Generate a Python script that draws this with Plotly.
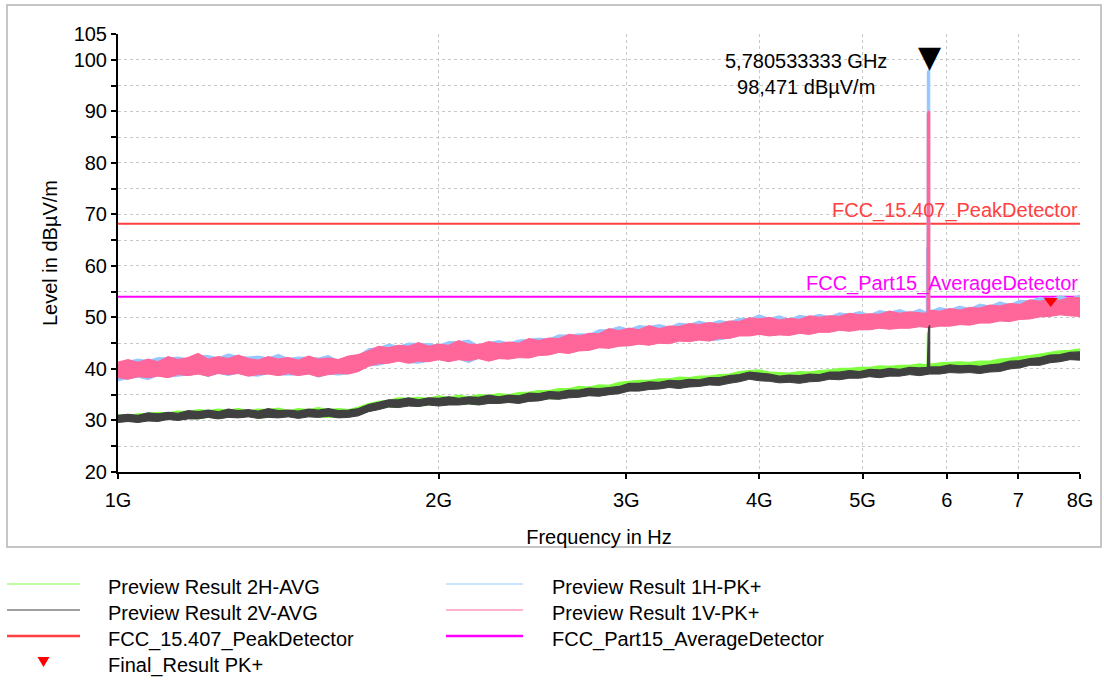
import numpy as np
import plotly.graph_objects as go

# ---------------------------------------------------------------------------
# Sweep data: 97 sweep points from 1 to 8 GHz (log-spaced), each trace given
# as the lower / upper edge of its noise band in dBuV/m.
# ---------------------------------------------------------------------------
FREQ_GHZ = np.geomspace(1.0, 8.0, 97)

PK_1H_HI = [
    41.0, 41.5, 41.9, 41.6, 42.2, 42.1, 42.3, 41.9, 42.6, 42.6,
    42.1, 42.9, 42.4, 42.3, 42.5, 42.1, 42.8, 42.0, 42.3, 42.2,
    42.1, 42.6, 41.6, 42.3, 42.6, 43.9, 44.1, 44.8, 44.4, 45.0,
    44.9, 44.9, 44.6, 45.3, 45.3, 45.6, 44.5, 45.1, 45.5, 45.0,
    45.6, 45.7, 46.0, 45.8, 46.6, 46.5, 46.8, 46.7, 47.6, 47.6,
    48.2, 47.7, 48.4, 48.2, 48.6, 48.1, 48.9, 48.6, 49.3, 48.8,
    49.4, 49.1, 49.8, 49.7, 50.5, 49.8, 50.3, 49.6, 50.4, 50.1,
    50.6, 50.1, 50.9, 50.6, 51.1, 50.5, 51.3, 51.0, 51.5, 50.9,
    51.6, 51.2, 51.9, 51.5, 52.2, 51.7, 52.6, 52.2, 53.0, 52.5,
    53.3, 53.2, 53.9, 53.4, 54.2, 53.7, 54.3]
PK_1H_LO = [
    37.7, 38.1, 38.4, 37.9, 38.7, 38.4, 38.6, 38.8, 39.1, 38.5,
    39.2, 38.7, 39.2, 38.7, 38.6, 39.1, 38.8, 38.8, 38.8, 39.1,
    38.4, 39.0, 38.8, 39.1, 39.6, 40.6, 40.7, 41.2, 41.6, 41.2,
    41.1, 41.5, 41.9, 41.5, 41.9, 41.2, 42.1, 41.6, 42.1, 42.0,
    42.3, 42.2, 42.7, 42.8, 43.3, 43.1, 43.6, 43.7, 44.2, 44.1,
    44.5, 44.6, 44.9, 44.7, 45.1, 45.0, 45.5, 45.4, 45.7, 45.5,
    45.6, 46.0, 46.5, 46.5, 46.8, 46.5, 46.7, 46.6, 47.0, 46.8,
    47.2, 47.2, 47.6, 47.4, 47.7, 47.7, 48.0, 47.8, 48.0, 48.0,
    48.3, 48.1, 48.4, 48.4, 48.7, 48.6, 49.0, 49.0, 49.4, 49.3,
    49.7, 49.8, 50.2, 50.3, 50.6, 50.4, 50.3]

PK_1V_HI = [
    41.3, 41.8, 41.3, 41.9, 41.4, 42.4, 41.8, 42.2, 43.0, 41.9,
    42.4, 42.0, 42.7, 42.0, 41.7, 42.4, 41.9, 42.2, 41.7, 42.5,
    41.9, 42.1, 41.8, 42.5, 42.8, 43.5, 44.4, 44.1, 44.6, 44.4,
    45.1, 44.4, 44.8, 44.6, 45.5, 44.8, 44.7, 45.3, 44.9, 45.2,
    45.0, 45.9, 45.5, 46.0, 45.9, 46.7, 46.4, 46.9, 46.8, 47.8,
    47.4, 47.9, 47.6, 48.4, 47.8, 48.3, 48.2, 48.8, 48.6, 49.0,
    48.7, 49.3, 49.2, 49.9, 49.7, 50.0, 49.5, 49.8, 49.6, 50.3,
    50.0, 50.3, 50.2, 50.8, 50.5, 50.7, 50.6, 51.2, 50.8, 51.1,
    50.9, 51.4, 51.2, 51.7, 51.4, 51.9, 51.8, 52.4, 52.2, 52.7,
    52.5, 53.4, 53.1, 53.6, 53.3, 53.9, 53.8]
PK_1V_LO = [
    38.3, 38.0, 38.5, 38.3, 38.6, 38.3, 38.9, 38.7, 39.0, 38.6,
    39.1, 38.9, 39.1, 38.6, 38.9, 39.0, 38.7, 39.1, 38.7, 39.0,
    38.5, 38.9, 39.1, 39.0, 39.5, 40.5, 41.0, 41.1, 41.5, 41.1,
    41.5, 41.4, 41.8, 41.4, 41.8, 41.6, 42.0, 41.5, 42.0, 41.9,
    42.2, 42.1, 42.6, 42.7, 43.2, 43.0, 43.5, 43.6, 44.1, 44.0,
    44.4, 44.5, 44.8, 44.6, 45.0, 44.9, 45.4, 45.3, 45.6, 45.4,
    45.9, 45.9, 46.4, 46.4, 46.7, 46.4, 46.6, 46.5, 46.9, 46.7,
    47.1, 47.1, 47.5, 47.3, 47.6, 47.6, 47.9, 47.7, 47.9, 47.9,
    48.2, 48.0, 48.3, 48.3, 48.6, 48.5, 48.9, 48.9, 49.3, 49.2,
    49.6, 49.7, 50.1, 50.2, 50.5, 50.3, 50.2]

AVG_2H_HI = [
    31.1, 31.0, 31.3, 31.4, 31.6, 31.5, 31.8, 31.7, 32.1, 31.9,
    32.2, 32.0, 32.3, 31.9, 32.2, 32.1, 32.4, 31.9, 32.3, 32.1,
    32.5, 32.1, 32.3, 32.1, 32.6, 33.3, 33.7, 33.9, 34.4, 34.3,
    34.5, 34.3, 34.8, 34.5, 34.9, 34.6, 35.0, 34.9, 35.2, 35.0,
    35.4, 35.5, 35.8, 35.8, 36.2, 36.2, 36.6, 36.5, 36.9, 36.8,
    37.4, 37.6, 37.8, 37.8, 38.1, 38.1, 38.4, 38.3, 38.6, 38.6,
    38.9, 39.0, 39.5, 39.7, 39.8, 39.4, 39.3, 39.2, 39.5, 39.4,
    39.7, 39.8, 40.1, 40.1, 40.3, 40.3, 40.6, 40.5, 40.7, 40.7,
    41.0, 40.9, 41.2, 41.3, 41.4, 41.3, 41.5, 41.5, 41.9, 42.1,
    42.4, 42.6, 42.9, 43.2, 43.5, 43.6, 43.9]
AVG_2H_LO = [
    29.8, 29.9, 29.7, 30.0, 30.1, 30.2, 30.2, 30.4, 30.3, 30.6,
    30.4, 30.6, 30.6, 30.8, 30.4, 30.7, 30.6, 30.8, 30.5, 30.8,
    30.7, 30.6, 30.7, 30.7, 31.0, 31.8, 32.2, 32.6, 32.6, 32.9,
    32.8, 33.0, 32.9, 33.1, 33.1, 33.2, 33.1, 33.4, 33.4, 33.5,
    33.4, 33.8, 33.9, 34.2, 34.2, 34.5, 34.6, 34.9, 34.9, 35.1,
    35.3, 35.8, 35.9, 36.1, 36.3, 36.5, 36.4, 36.7, 36.8, 37.0,
    37.0, 37.3, 37.7, 38.1, 37.9, 37.8, 37.5, 37.6, 37.4, 37.7,
    37.8, 38.1, 38.1, 38.3, 38.4, 38.6, 38.5, 38.8, 38.8, 39.0,
    38.9, 39.2, 39.2, 39.5, 39.4, 39.5, 39.3, 39.6, 39.7, 40.2,
    40.4, 40.9, 40.9, 41.4, 41.6, 42.0, 41.9]

AVG_2V_HI = [
    31.0, 31.2, 31.0, 31.5, 31.3, 31.6, 31.4, 31.9, 31.7, 32.0,
    31.7, 32.2, 31.9, 32.1, 31.8, 32.3, 31.9, 32.0, 31.8, 32.2,
    32.0, 32.3, 31.9, 32.0, 32.3, 33.1, 33.5, 34.0, 34.0, 34.4,
    34.0, 34.4, 34.3, 34.6, 34.3, 34.6, 34.5, 34.9, 34.6, 34.9,
    34.8, 35.3, 35.2, 35.6, 35.5, 35.9, 35.9, 36.3, 36.2, 36.4,
    36.6, 37.2, 37.2, 37.5, 37.4, 37.8, 37.7, 38.0, 37.9, 38.3,
    38.3, 38.7, 38.9, 39.4, 39.2, 39.0, 38.6, 38.8, 38.7, 39.0,
    38.9, 39.4, 39.4, 39.7, 39.5, 39.9, 39.8, 40.1, 39.9, 40.3,
    40.2, 40.4, 40.4, 40.8, 40.6, 40.7, 40.5, 40.8, 41.0, 41.5,
    41.6, 42.0, 42.2, 42.7, 42.8, 43.2, 43.3]
AVG_2V_LO = [
    29.6, 29.8, 29.6, 29.9, 29.8, 30.2, 30.0, 30.3, 30.3, 30.6,
    30.3, 30.6, 30.5, 30.7, 30.4, 30.6, 30.5, 30.7, 30.4, 30.7,
    30.6, 30.8, 30.5, 30.6, 30.9, 31.7, 32.1, 32.6, 32.5, 32.8,
    32.7, 33.0, 32.8, 33.0, 33.0, 33.2, 33.0, 33.3, 33.3, 33.5,
    33.3, 33.7, 33.8, 34.2, 34.1, 34.4, 34.5, 34.8, 34.7, 35.0,
    35.2, 35.7, 35.7, 36.0, 36.1, 36.4, 36.2, 36.5, 36.6, 36.9,
    36.8, 37.2, 37.5, 38.0, 37.7, 37.6, 37.3, 37.4, 37.2, 37.5,
    37.6, 38.0, 37.9, 38.2, 38.2, 38.5, 38.3, 38.6, 38.6, 38.9,
    38.7, 39.0, 39.0, 39.3, 39.2, 39.3, 39.1, 39.4, 39.5, 40.0,
    40.2, 40.7, 40.7, 41.2, 41.4, 41.8, 41.7]

# carrier emission near 5.78 GHz (narrow spikes on every trace)
PEAK_FREQ_HZ = 5780533333
PEAK_LEVEL = 98.471
SPIKE_GHZ = [5.7390, 5.7420, 5.7460, 5.7490, 5.7520, 5.7660, PEAK_FREQ_HZ / 1e9]
PK_1H_SPIKE = [51.0, 63.6, 51.1, 51.3, 97.6, 98.0, PEAK_LEVEL]
PK_1V_SPIKE = [50.8, 50.9, 50.9, 51.0, 89.6, 90.0, 89.8]
AVG_2H_SPIKE = [40.8, 40.9, 40.9, 41.0, 46.9, 47.2, 41.0]
AVG_2V_SPIKE = [40.3, 40.2, 40.3, 40.4, 40.5, 48.0, 48.5]

# limits and final measurement
LIMIT_PEAK = 68.2
LIMIT_AVG = 54.0
FINAL_GHZ = [7.51]
FINAL_LEVEL = [53.2]

# axis ticks
X_TICK_GHZ = [1, 2, 3, 4, 5, 6, 7, 8]
X_TICK_TEXT = ["1G", "2G", "3G", "4G", "5G", "6", "7", "8G"]
Y_TICKS = [20, 25, 30, 35, 40, 45, 50, 55, 60, 65, 70, 75, 80, 85, 90, 95, 100, 105]
Y_TICK_TEXT = ["20", "", "30", "", "40", "", "50", "", "60", "", "70", "",
               "80", "", "90", "", "100", "105"]

# ---------------------------------------------------------------------------
# styling
# ---------------------------------------------------------------------------
FONT = "Liberation Sans, Arial, sans-serif"
FS = 20
C_BLUE = "rgb(150,200,255)"
C_PINK = "rgb(255,102,153)"
C_GREEN = "rgb(128,255,64)"
C_GRAY = "rgb(64,64,64)"
C_RED = "rgb(255,64,64)"
C_MAGENTA = "rgb(255,0,255)"
C_FINAL = "rgb(255,0,0)"

W, H = 1104, 680
ML, MR, MT, MB = 118, 24, 34, 208
PW, PH = W - ML - MR, H - MT - MB


def px_x(px):
    return (px - ML) / PW


def px_y(py):
    return (H - MB - py) / PH


fig = go.Figure()

# limit lines (under the measured traces)
for level, color in ((LIMIT_PEAK, C_RED), (LIMIT_AVG, C_MAGENTA)):
    fig.add_trace(go.Scatter(
        x=[1e9, 8e9], y=[level, level], mode="lines",
        line=dict(color=color, width=2), showlegend=False, hoverinfo="skip"))


def add_band(lo, hi, color, name, spike_v):
    f = FREQ_GHZ * 1e9
    fig.add_trace(go.Scatter(
        x=f, y=lo, mode="lines", line=dict(color=color, width=1, simplify=False),
        showlegend=False, hoverinfo="skip"))
    fh = np.concatenate([f, np.asarray(SPIKE_GHZ) * 1e9])
    vh = np.concatenate([np.asarray(hi), np.asarray(spike_v)])
    order = np.argsort(fh, kind="stable")
    fig.add_trace(go.Scatter(
        x=fh[order], y=vh[order], mode="lines",
        line=dict(color=color, width=1.2, simplify=False),
        fill="tonexty", fillcolor=color, name=name, showlegend=False))


add_band(PK_1H_LO, PK_1H_HI, C_BLUE, "Preview Result 1H-PK+", PK_1H_SPIKE)
add_band(PK_1V_LO, PK_1V_HI, C_PINK, "Preview Result 1V-PK+", PK_1V_SPIKE)
add_band(AVG_2H_LO, AVG_2H_HI, C_GREEN, "Preview Result 2H-AVG", AVG_2H_SPIKE)
add_band(AVG_2V_LO, AVG_2V_HI, C_GRAY, "Preview Result 2V-AVG", AVG_2V_SPIKE)

# final result marker
fig.add_trace(go.Scatter(
    x=np.asarray(FINAL_GHZ) * 1e9, y=FINAL_LEVEL, mode="markers",
    marker=dict(symbol="triangle-down", size=12, color=C_FINAL, line=dict(width=0)),
    name="Final_Result PK+", showlegend=False))

shapes = []
annotations = []

# peak marker: a downward triangle sitting on the peak level
annotations.append(dict(
    xref="x", yref="y", x=np.log10(PEAK_FREQ_HZ), y=PEAK_LEVEL, text="▼",
    showarrow=False, xanchor="center", yanchor="bottom", yshift=-8,
    font=dict(family="DejaVu Sans", size=30, color="black")))

peak_txt = (f"{PEAK_FREQ_HZ / 1e9:.9f}".replace(".", ",") + " GHz<br>"
            + f"{PEAK_LEVEL:.3f}".replace(".", ",") + " dBµV/m")
annotations.append(dict(
    xref="paper", yref="paper", x=px_x(806), y=px_y(74), text=peak_txt,
    showarrow=False, xanchor="center", yanchor="middle", align="center",
    font=dict(family=FONT, size=FS, color="black")))

# limit labels
for level, color, label in ((LIMIT_PEAK, C_RED, "FCC_15.407_PeakDetector"),
                            (LIMIT_AVG, C_MAGENTA, "FCC_Part15_AverageDetector")):
    annotations.append(dict(
        xref="paper", yref="y", x=1.0, y=level, text=label, showarrow=False,
        xanchor="right", yanchor="bottom", yshift=0,
        font=dict(family=FONT, size=FS, color=color)))

# outer frame
shapes.append(dict(
    type="rect", xref="paper", yref="paper",
    x0=px_x(7), x1=px_x(1101), y0=px_y(547), y1=px_y(5),
    line=dict(color="rgb(180,180,180)", width=1.5), fillcolor="rgba(0,0,0,0)",
    layer="below"))

# legend, two columns
LEGEND_ROWS = [584, 610, 636, 662]
LEGEND_COLS = [(7, 80, 106), (446, 523, 550)]
legend_items = [
    (0, 0, "Preview Result 2H-AVG", C_GREEN, 1),
    (0, 1, "Preview Result 2V-AVG", C_GRAY, 1),
    (0, 2, "FCC_15.407_PeakDetector", C_RED, 2.5),
    (0, 3, "Final_Result PK+", None, 0),
    (1, 0, "Preview Result 1H-PK+", C_BLUE, 1),
    (1, 1, "Preview Result 1V-PK+", C_PINK, 1),
    (1, 2, "FCC_Part15_AverageDetector", C_MAGENTA, 2.5),
]
for col, row, label, color, lw in legend_items:
    x0, x1, xt = LEGEND_COLS[col]
    yy = LEGEND_ROWS[row]
    if color is not None:
        shapes.append(dict(
            type="line", xref="paper", yref="paper",
            x0=px_x(x0), x1=px_x(x1), y0=px_y(yy), y1=px_y(yy),
            line=dict(color=color, width=lw)))
    else:
        xc = (x0 + x1) / 2
        shapes.append(dict(
            type="path", xref="paper", yref="paper",
            path=(f"M {px_x(xc - 6)},{px_y(yy - 5)} L {px_x(xc + 6)},{px_y(yy - 5)} "
                  f"L {px_x(xc)},{px_y(yy + 5)} Z"),
            fillcolor=C_FINAL, line=dict(color=C_FINAL, width=0)))
    annotations.append(dict(
        xref="paper", yref="paper", x=px_x(xt), y=px_y(yy + 3), text=label,
        showarrow=False, xanchor="left", yanchor="middle",
        font=dict(family=FONT, size=FS, color="black")))

fig.update_layout(
    width=W, height=H,
    margin=dict(l=ML, r=MR, t=MT, b=MB, pad=0),
    paper_bgcolor="white", plot_bgcolor="white",
    font=dict(family=FONT, size=FS, color="black"),
    showlegend=False,
    shapes=shapes, annotations=annotations,
    xaxis=dict(
        type="log", range=[9, np.log10(8e9)],
        tickvals=[g * 1e9 for g in X_TICK_GHZ], ticktext=X_TICK_TEXT,
        ticks="outside", ticklen=5, tickwidth=2, tickcolor="black",
        ticklabelstandoff=4,
        showline=True, linecolor="black", linewidth=2,
        showgrid=True, gridcolor="rgb(200,200,200)", griddash="dot", gridwidth=1,
        zeroline=False,
        title=dict(text="Frequency in Hz", standoff=20,
                   font=dict(family=FONT, size=FS, color="black")),
        tickfont=dict(family=FONT, size=FS, color="black"),
    ),
    yaxis=dict(
        range=[20, 105],
        tickvals=Y_TICKS, ticktext=Y_TICK_TEXT,
        ticks="outside", ticklen=5, tickwidth=2, tickcolor="black",
        showline=True, linecolor="black", linewidth=2,
        showgrid=True, gridcolor="rgb(200,200,200)", griddash="dot", gridwidth=1,
        zeroline=False,
        title=dict(text="Level in dBµV/m", standoff=11,
                   font=dict(family=FONT, size=FS, color="black")),
        tickfont=dict(family=FONT, size=FS, color="black"),
    ),
)

fig.write_html("out.html")
